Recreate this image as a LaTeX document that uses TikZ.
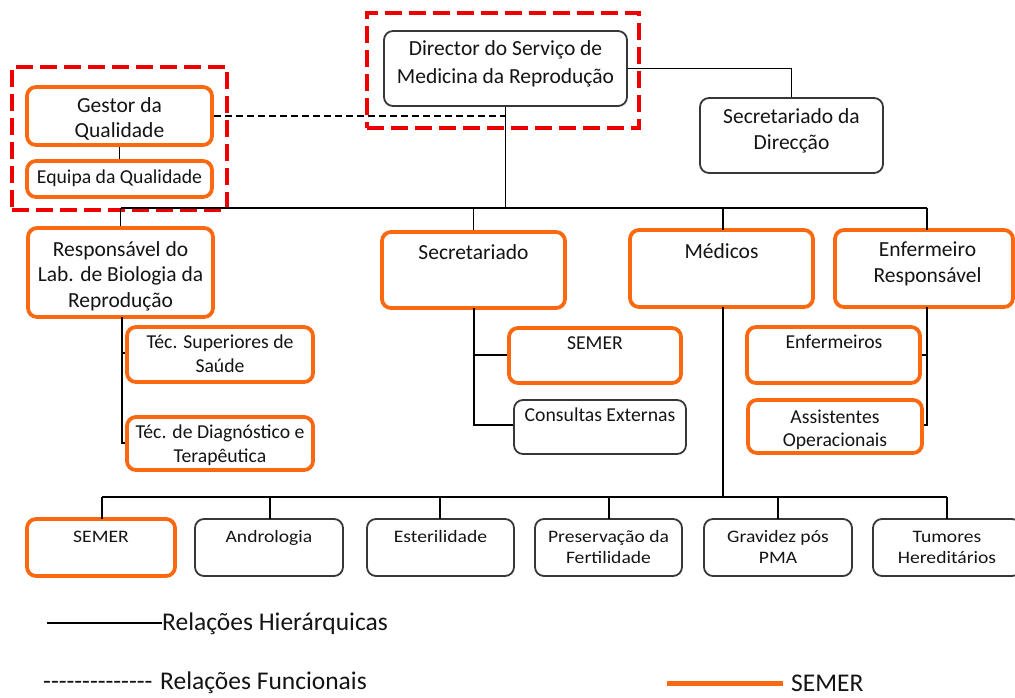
\documentclass[tikz,border=0pt]{standalone}
\usepackage{fontspec}
\setmainfont{Carlito}
\newfontfamily\widefont[FakeStretch=1.12]{Carlito}
\usetikzlibrary{fit}
\definecolor{semer}{RGB}{250,105,15}
\definecolor{frame}{RGB}{238,0,0}
\definecolor{edge}{RGB}{55,55,55}
\definecolor{ink}{RGB}{20,20,20}

\tikzset{
  box/.style={rounded corners=9pt, inner sep=0pt},
  obox/.style={box, draw=semer, line width=3.8pt},
  gbox/.style={box, draw=edge, line width=1.8pt},
  groupframe/.style={inner sep=0pt, draw=frame, line width=4.8pt, dash pattern=on 17pt off 7pt},
  lbl/.style={anchor=north, align=center, inner sep=0pt, text=ink},
  bigtxt/.style={lbl, font=\fontsize{21.5}{25}\selectfont},
  smalltxt/.style={lbl, font=\fontsize{19.7}{24}\selectfont},
  rowtxt/.style={lbl, font=\widefont\fontsize{17.5}{21}\selectfont},
  legtxt/.style={anchor=base west, inner sep=0pt, text=ink, font=\fontsize{25.5}{30}\selectfont},
  hier/.style={draw=black, line width=1.8pt},
  func/.style={draw=black, line width=1.5pt, dash pattern=on 7pt off 4pt},
}

\begin{document}
\begin{tikzpicture}[x=1pt,y=-1pt]
\useasboundingbox (0,0) rectangle (1015,697);

% ---------- boxes ----------
\node[gbox, fit={(384,31) (627,106)}] (dir) {};
\node[gbox, fit={(700,98) (883,173)}] (sdir) {};
\node[obox, fit={(27,87) (212,145)}] (gest) {};
\node[obox, fit={(27,161) (212,197)}] (equipa) {};

\node[obox, fit={(28,228) (213,317)}] (resp) {};
\node[obox, fit={(382,232) (565,308)}] (secr) {};
\node[obox, fit={(630,230) (813,307)}] (med) {};
\node[obox, fit={(835,230) (1013,307)}] (enf) {};

\node[obox, fit={(127,327) (313,382)}] (tss) {};
\node[obox, fit={(127,417) (313,470)}] (tdt) {};
\node[obox, fit={(509,328) (681,383)}] (semerA) {};
\node[gbox, fit={(514,400) (686,454)}] (cons) {};
\node[obox, fit={(747,327) (920,383)}] (enfs) {};
\node[obox, fit={(748,400) (922,453)}] (assis) {};

\node[obox, fit={(27,519) (175,576)}] (semerB) {};
\node[gbox, fit={(195,519) (343,576)}] (andro) {};
\node[gbox, fit={(367,519) (514,576)}] (ester) {};
\node[gbox, fit={(535,519) (682,576)}] (pres) {};
\node[gbox, fit={(704,519) (852,576)}] (grav) {};
\node[gbox, fit={(873,519) (1021,576)}] (tum) {};

% ---------- red group frames ----------
\node[groupframe, fit={(367,13) (639,128)}] (dirframe) {};
\node[groupframe, fit={(12,67) (227,210)}] (qualframe) {};

% ---------- labels ----------
\node[lbl, font=\fontsize{21.5}{28}\selectfont] (dir-t) at (505.5,35.4)
  {\strut Director do Serviço de\\\strut Medicina da Reprodução};
\node[lbl, font=\fontsize{21.5}{26}\selectfont] (sdir-t) at (791.5,104.8)
  {\strut Secretariado da\\\strut Direcção};
\node[bigtxt] (gest-t) at (119.5,94.5) {\strut Gestor da\\\strut Qualidade};
\node[smalltxt] (equipa-t) at (119.5,166.2) {\strut Equipa da Qualidade};

\node[lbl, font=\fontsize{21.5}{25.5}\selectfont] (resp-t) at (120.5,238.2)
  {\strut Responsável do\\\strut Lab. de Biologia da\\\strut Reprodução};
\node[bigtxt] (secr-t) at (473.5,241.5) {\strut Secretariado};
\node[bigtxt] (med-t) at (721.5,240.5) {\strut Médicos};
\node[lbl, font=\fontsize{21.5}{26}\selectfont] (enf-t) at (927.5,237.8)
  {\strut Enfermeiro\\\strut Responsável};

\node[smalltxt] (tss-t) at (220,331.2) {\strut Téc. Superiores de\\\strut Saúde};
\node[smalltxt] (tdt-t) at (220,421.2) {\strut Téc. de Diagnóstico e\\\strut Terapêutica};
\node[smalltxt] (semerA-t) at (595,332.2) {\strut SEMER};
\node[smalltxt] (cons-t) at (600,404.2) {\strut Consultas Externas};
\node[smalltxt] (enfs-t) at (834,331.2) {\strut Enfermeiros};
\node[lbl, font=\fontsize{19.7}{23}\selectfont] (assis-t) at (835,406.9)
  {\strut Assistentes\\\strut Operacionais};

\node[rowtxt] (semerB-t) at (101,527.3) {\strut SEMER};
\node[rowtxt] (andro-t) at (269,527.3) {\strut Andrologia};
\node[rowtxt] (ester-t) at (440.5,527.3) {\strut Esterilidade};
\node[rowtxt] (pres-t) at (608.5,527.3) {\strut Preservação da\\\strut Fertilidade};
\node[rowtxt] (grav-t) at (778,527.3) {\strut Gravidez pós\\\strut PMA};
\node[rowtxt] (tum-t) at (947,527.3) {\strut Tumores\\\strut Hereditários};

% ---------- connection points ----------
\coordinate (topbus) at (dir.south |- 0,208);
\coordinate (sdirturn) at (sdir.north |- dir.east);
\coordinate (dashend) at (dir.south |- gest.east);
\coordinate (labend) at (122,443);
\coordinate (secend) at (474,425);
\coordinate (enfend) at (927,425);
\coordinate (lowbus) at (723,497);

% ---------- hierarchical relations ----------
\draw[hier] (dir.south) -- (topbus);
\draw[hier] (resp.north |- topbus) -- (927,208);
\draw[hier] (resp.north |- topbus) -- (resp.north);
\draw[hier] (secr.north |- topbus) -- (secr.north);
\draw[hier] (723,208) -- (723,230);
\draw[hier] (927,208) -- (927,230);
\draw[hier] (dir.east) -- (sdirturn) -- (sdir.north);
\draw[hier] (gest.south) -- (equipa.north);

\draw[hier] (122,317) -- (labend) -- (tdt.west |- labend);
\draw[hier] (122,353) -- (tss.west |- 122,353);
\draw[hier] (474,308) -- (secend) -- (cons.west |- secend);
\draw[hier] (474,355) -- (semerA.west |- 474,355);
\draw[hier] (927,307) -- (enfend) -- (assis.east |- enfend);
\draw[hier] (927,355) -- (enfs.east |- 927,355);

\draw[hier] (723,307) -- (lowbus);
\draw[hier] (102,497) -- (947,497);
\draw[black, line width=2.6pt] (270,497) -- (778,497);
\draw[hier] (102,497) -- (102,519);
\draw[hier] (270,497) -- (270,519);
\draw[hier] (440,497) -- (440,519);
\draw[hier] (609,497) -- (609,519);
\draw[hier] (778,497) -- (778,519);
\draw[hier] (947,497) -- (947,519);

% ---------- functional relation ----------
\draw[func] (gest.east) -- (dashend);

% ---------- legend ----------
\coordinate (hierA) at (47,623);
\coordinate (hierB) at (162,623);
\draw[hier] (hierA) -- (hierB);
\node[legtxt] (hier-t) at (162,630) {Relações Hierárquicas};
\node[legtxt] (func-dash) at (43,689) {{-}{-}{-}{-}{-}{-}{-}{-}{-}{-}{-}{-}{-}{-}};
\node[legtxt] (func-t) at (160,689) {Relações Funcionais};
\coordinate (semA) at (667,683);
\coordinate (semB) at (783,683);
\draw[semer, line width=5pt] (semA) -- (semB);
\node[legtxt] (sem-t) at (791,691) {SEMER};
\end{tikzpicture}
\end{document}
